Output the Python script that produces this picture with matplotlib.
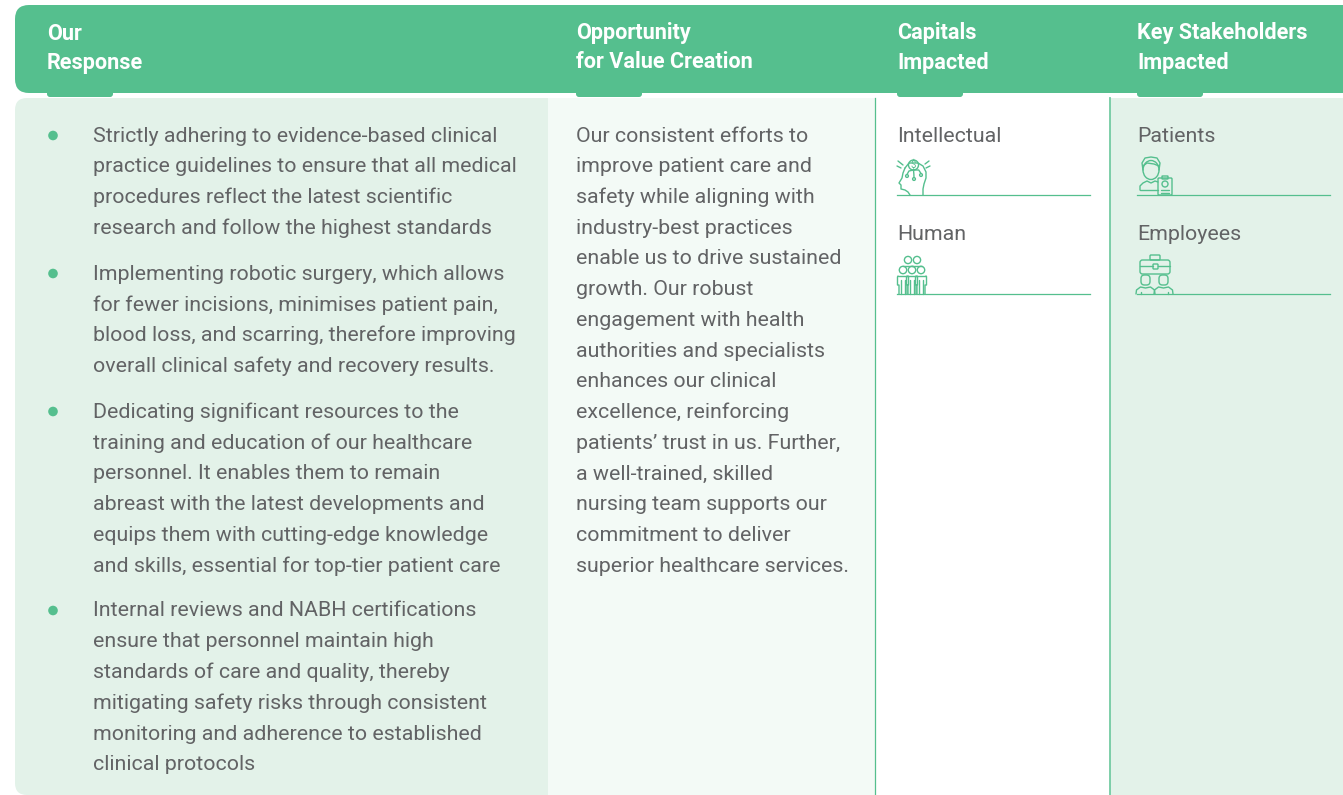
import matplotlib
matplotlib.use("Agg")
import matplotlib.pyplot as plt
from matplotlib.patches import Circle, Ellipse, FancyBboxPatch, Rectangle

# ---- content ----
HEADERS = [["Our", "Response"], ["Opportunity", "for Value Creation"], ["Capitals", "Impacted"],
           ["Key Stakeholders", "Impacted"]]
RESPONSE = [
    ["Strictly adhering to evidence-based clinical", "practice guidelines to ensure that all medical",
     "procedures reflect the latest scientific", "research and follow the highest standards"],
    ["Implementing robotic surgery, which allows", "for fewer incisions, minimises patient pain,",
     "blood loss, and scarring, therefore improving", "overall clinical safety and recovery results."],
    ["Dedicating significant resources to the", "training and education of our healthcare",
     "personnel. It enables them to remain", "abreast with the latest developments and",
     "equips them with cutting-edge knowledge", "and skills, essential for top-tier patient care"],
    ["Internal reviews and NABH certifications", "ensure that personnel maintain high",
     "standards of care and quality, thereby", "mitigating safety risks through consistent",
     "monitoring and adherence to established", "clinical protocols"],
]
OPPORTUNITY = ["Our consistent efforts to", "improve patient care and", "safety while aligning with",
               "industry-best practices", "enable us to drive sustained", "growth. Our robust",
               "engagement with health", "authorities and specialists", "enhances our clinical",
               "excellence, reinforcing", "patients\u2019 trust in us. Further,", "a well-trained, skilled",
               "nursing team supports our", "commitment to deliver", "superior healthcare services."]
CAPITALS = ["Intellectual", "Human"]
STAKEHOLDERS = ["Patients", "Employees"]

# ---- layout ----
W, H = 1343, 795
GREEN = "#55BF8E"
LINE = "#74CBA3"
PALE = "#E3F2E9"
PALER = "#F3FAF6"
TEXT = "#626365"
FONT = "Roboto"
BODY = 15.37
HEAD = 15.55
COL_X = [47, 576, 897, 1137]
RESPONSE_Y = [136, 274, 412, 611]
LINE_GAP = 30.8

plt.rcParams["font.family"] = FONT
fig = plt.figure(figsize=(W / 100, H / 100), dpi=100)
ax = fig.add_axes([0, 0, 1, 1])
ax.set_xlim(0, W)
ax.set_ylim(H, 0)
ax.axis("off")


def rounded(x0, y0, x1, y1, r, color, z=1):
    ax.add_patch(FancyBboxPatch((x0 + r, y0 + r), x1 - x0 - 2 * r, y1 - y0 - 2 * r,
                                boxstyle="round,pad=%s,rounding_size=%s" % (r, r),
                                fc=color, ec="none", zorder=z))


def body(x, y, s):
    ax.text(x, y, s, color=TEXT, fontsize=BODY, va="center", ha="left", zorder=5)


def stroke(xs, ys, lw=1.0):
    ax.plot(xs, ys, color=GREEN, lw=lw, solid_capstyle="round", solid_joinstyle="round", zorder=6)


def ring(x, y, r, lw=1.0):
    ax.add_patch(Circle((x, y), r, fc="none", ec=GREEN, lw=lw, zorder=6))


def box(x0, y0, x1, y1, r=1.0, lw=1.0):
    ax.add_patch(FancyBboxPatch((x0 + r, y0 + r), x1 - x0 - 2 * r, y1 - y0 - 2 * r,
                                boxstyle="round,pad=%s,rounding_size=%s" % (r, r),
                                fc="none", ec=GREEN, lw=lw, zorder=6))


def icon_head():
    stroke([905, 903, 902, 899, 901, 901, 905, 908, 910], [168, 173, 178, 183, 185, 189, 190, 192, 195])
    stroke([905, 909, 918, 923, 926, 926, 924, 923, 923], [168, 163, 163, 166, 172, 178, 184, 189, 195])
    ring(913.5, 165, 5)
    ax.text(913.5, 165, "$", color=GREEN, fontsize=7, ha="center", va="center", zorder=7)
    stroke([898, 903], [161, 165])
    stroke([897, 901], [166, 168])
    stroke([925, 929], [164, 161])
    stroke([926, 930], [168, 166])
    for nx, ny in [(907, 176), (914, 179), (921, 175)]:
        stroke([913.5, 913.5 + (nx - 913.5) * 0.7, nx], [170, ny - 5, ny - 1.5])
        ring(nx, ny, 1.4)


def icon_people():
    for x in [908, 917]:
        ring(x, 260, 3.6)
        stroke([x - 5, x + 5], [266, 266])
    for x in [903, 912, 921]:
        ring(x, 270, 3.7)
        stroke([x - 5, x - 5.5, x - 5.5, x - 4, x - 4], [276, 277, 285, 285, 294])
        stroke([x + 5, x + 5.5, x + 5.5, x + 4, x + 4], [276, 277, 285, 285, 294])
        stroke([x - 5, x + 5], [275.5, 275.5])
        stroke([x - 2, x - 2], [280, 294])
        stroke([x + 2, x + 2], [280, 294])


def icon_patient():
    ax.add_patch(Ellipse((1151, 170), 16, 19, fc="none", ec=GREEN, lw=1.0, zorder=6))
    stroke([1143, 1142, 1145, 1151, 1157, 1160, 1159], [170, 163, 158, 157, 158, 163, 170])
    stroke([1143, 1147, 1154, 1159], [166, 163, 164, 166])
    stroke([1140, 1140, 1143, 1147, 1151, 1155, 1158], [190, 186, 183, 181, 183, 181, 182])
    stroke([1140, 1158], [190, 190])
    box(1158, 178, 1172, 195, r=1.0)
    box(1162, 176, 1168, 179, r=0.5)
    ring(1165, 184, 3)
    stroke([1161, 1169], [190, 190])
    stroke([1161, 1169], [192.5, 192.5])


def icon_staff():
    box(1140, 260, 1170, 274, r=2.5)
    box(1150, 255, 1160, 260, r=1.0)
    stroke([1140, 1153], [266, 266])
    stroke([1158, 1170], [266, 266])
    box(1153, 264, 1158, 269, r=0.8)
    for x in [1145.5, 1163.5]:
        box(x - 4.5, 275, x + 4.5, 285, r=3.5)
        stroke([x - 9.5, x - 9, x - 5, x, x + 5, x + 9, x + 9.5], [294, 290, 287, 288, 287, 290, 294])
    stroke([1141, 1141], [292, 294])
    stroke([1168, 1168], [292, 294])


# ---- panels ----
rounded(15, 98, 560, H, 12, PALE, 1)
ax.add_patch(Rectangle((548, 98), 327, H - 98, fc=PALER, ec="none", zorder=2))
ax.add_patch(Rectangle((875, 98), 235, H - 98, fc="white", ec="none", zorder=2))
ax.add_patch(Rectangle((1110, 98), W - 1110, H - 98, fc=PALE, ec="none", zorder=2))
ax.plot([875, 875], [98, H], color=GREEN, lw=0.9, zorder=3)
ax.plot([1110, 1110], [98, H], color=LINE, lw=1.3, zorder=3)

# ---- header band and tabs ----
rounded(15, 5, W + 40, 93, 14, GREEN, 3)
for x in COL_X:
    rounded(x, 86, x + 66, 97, 3, GREEN, 3)
for x, lines in zip(COL_X, HEADERS):
    for i, s in enumerate(lines):
        ax.text(x, 33.5 + 29 * i, s, color="white", fontsize=HEAD, fontweight="bold",
                va="center", ha="left", zorder=5)

# ---- our response ----
for y0, lines in zip(RESPONSE_Y, RESPONSE):
    ax.add_patch(Circle((53, y0 - 0.5), 4.8, fc=GREEN, ec="none", zorder=5))
    for i, s in enumerate(lines):
        body(93, y0 + i * LINE_GAP, s)

# ---- opportunity ----
for i, s in enumerate(OPPORTUNITY):
    body(576, 136 + i * 30.72, s)

# ---- capitals / stakeholders ----
for i, s in enumerate(CAPITALS):
    body(897, 136 + 99 * i, s)
    ax.plot([897, 1090], [195 + 99 * i] * 2, color=GREEN, lw=0.9, zorder=4)
for i, s in enumerate(STAKEHOLDERS):
    body(1137, 136 + 99 * i, s)
    ax.plot([1137, 1330], [195 + 99 * i] * 2, color=GREEN, lw=0.9, zorder=4)
icon_head()
icon_people()
icon_patient()
icon_staff()

fig.savefig("out.png", dpi=100)
